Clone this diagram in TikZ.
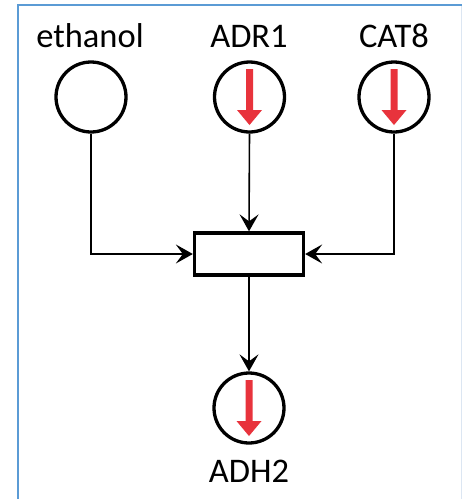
\documentclass[tikz,border=0pt]{standalone}
\usepackage{fontspec}
\setmainfont{Carlito}
\usetikzlibrary{arrows.meta}
\definecolor{frameblue}{HTML}{5B9BD5}
\definecolor{framelight}{HTML}{DCE6F2}
\definecolor{arrred}{HTML}{E8333C}
\tikzset{
  lbl/.style={anchor=base, inner sep=0pt, font=\fontsize{34.5}{40}\selectfont},
  species/.style={circle, draw=black, line width=3.3pt, minimum size=70pt, inner sep=0pt},
  downreg/.style={species, path picture={
    \fill[arrred] ([xshift=-3.5pt,yshift=28pt]path picture bounding box.center)
      -- ([xshift=3.5pt,yshift=28pt]path picture bounding box.center)
      -- ([xshift=3.5pt,yshift=-13pt]path picture bounding box.center)
      -- ([xshift=12.5pt,yshift=-13pt]path picture bounding box.center)
      -- ([yshift=-28pt]path picture bounding box.center)
      -- ([xshift=-12.5pt,yshift=-13pt]path picture bounding box.center)
      -- ([xshift=-3.5pt,yshift=-13pt]path picture bounding box.center)
      -- cycle;}},
  process/.style={rectangle, draw=black, line width=3.3pt, minimum width=109pt, minimum height=42pt, inner sep=0pt},
  conn/.style={draw=black, line width=1.6pt, -{Stealth[length=17pt, width=19pt, inset=7pt]}}
}
\begin{document}
\begin{tikzpicture}[x=1pt,y=-1pt]
\useasboundingbox (0,0) rectangle (462,499);
\fill[white] (0,0) rectangle (462,499);
% frame
\draw[framelight, line width=1pt] (461,5) -- (461,499);
\draw[frameblue, line width=2.5pt] (18,499) -- (18,5) -- (462,5);
% labels
\node[lbl] (lEth) at (90,47) {ethanol};
\node[lbl] (lAdr) at (249,47) {ADR1};
\node[lbl] (lCat) at (394,47) {CAT8};
\node[lbl] (lAdh) at (249,482) {ADH2};
% species
\node[species] (eth) at (91,97) {};
\node[downreg] (adr) at (249.5,97) {};
\node[downreg] (cat) at (394,97) {};
\node[downreg] (adh) at (249,408) {};
% process
\node[process] (proc) at (249,254) {};
% connectors
\draw[conn] (eth.south) |- (proc.west);
\draw[conn] (adr.south) -- (proc.north);
\draw[conn] (cat.south) |- (proc.east);
\draw[conn] (proc.south) -- (adh.north);
\end{tikzpicture}
\end{document}
